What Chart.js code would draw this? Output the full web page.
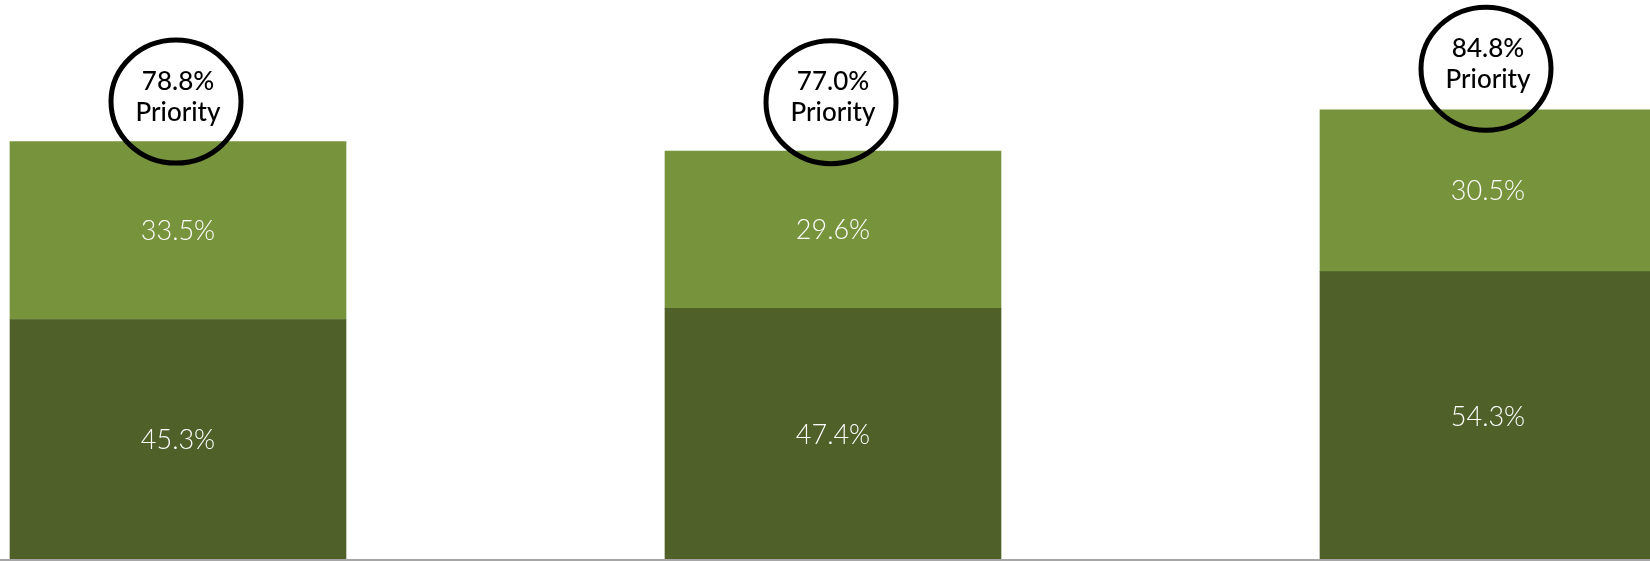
<!DOCTYPE html>
<html>
<head>
<meta charset="utf-8">
<script src="https://cdn.jsdelivr.net/npm/chart.js@4.4.1/dist/chart.umd.min.js"></script>
<style>
  html, body { margin: 0; padding: 0; background: #ffffff; }
  #wrap { width: 1650px; height: 561px; position: relative; }
</style>
</head>
<body>
<div id="wrap"><canvas id="c" width="1650" height="561"></canvas></div>
<script>
// ---- data ----
const categories = ['Group 1', 'Group 2', 'Group 3'];
const bottomValues = [45.3, 47.4, 54.3];
const topValues = [33.5, 29.6, 30.5];
const circleSuffix = 'Priority';

const DARK = '#4F6128';
const LIGHT = '#77933C';

const overlayPlugin = {
  id: 'overlay',
  afterDatasetsDraw(chart, args, opts) {
    const ctx = chart.ctx;
    const m0 = chart.getDatasetMeta(0);
    const m1 = chart.getDatasetMeta(1);
    ctx.save();
    // segment labels
    ctx.fillStyle = '#ffffff';
    ctx.font = '300 27px Lato, "Open Sans", sans-serif';
    ctx.textAlign = 'center';
    ctx.textBaseline = 'middle';
    [m0, m1].forEach((meta, di) => {
      const vals = chart.data.datasets[di].data;
      meta.data.forEach((el, i) => {
        const cy = (el.y + el.base) / 2;
        ctx.fillText(vals[i].toFixed(1) + '%', el.x, cy + 1);
      });
    });
    // baseline
    const yb = chart.scales.y.getPixelForValue(0);
    ctx.strokeStyle = '#A6A6A6';
    ctx.lineWidth = 2;
    ctx.beginPath();
    ctx.moveTo(0, yb);
    ctx.lineTo(chart.width, yb);
    ctx.stroke();
    // circles
    const offs = opts.offsets;
    m1.data.forEach((el, i) => {
      const total = bottomValues[i] + topValues[i];
      const cx = el.x - 2;
      const cy = el.y - offs[i];
      ctx.beginPath();
      ctx.ellipse(cx, cy, 65, 61.5, 0, 0, Math.PI * 2);
      ctx.lineWidth = 5;
      ctx.strokeStyle = '#000000';
      ctx.stroke();
      ctx.fillStyle = '#000000';
      ctx.font = '500 26px Lato, "Open Sans", sans-serif';
      ctx.textAlign = 'center';
      ctx.textBaseline = 'alphabetic';
      ctx.fillText(total.toFixed(1) + '%', el.x, cy - 12);
      ctx.fillText(circleSuffix, el.x, cy + 19);
    });
    ctx.restore();
  }
};

new Chart(document.getElementById('c'), {
  type: 'bar',
  data: {
    labels: categories,
    datasets: [
      { label: 'Bottom', data: bottomValues, backgroundColor: DARK, borderWidth: 0, barThickness: 336, clip: false },
      { label: 'Top', data: topValues, backgroundColor: LIGHT, borderWidth: 0, barThickness: 336, clip: false }
    ]
  },
  options: {
    responsive: false,
    animation: false,
    layout: { padding: { left: 178, right: 162, top: 29, bottom: 1 } },
    plugins: {
      legend: { display: false },
      tooltip: { enabled: false },
      overlay: { offsets: [40, 49, 41] }
    },
    scales: {
      x: { type: 'category', stacked: true, offset: false, display: false },
      y: { stacked: true, min: 0, max: 100, display: false }
    }
  },
  plugins: [overlayPlugin]
});
</script>
</body>
</html>
